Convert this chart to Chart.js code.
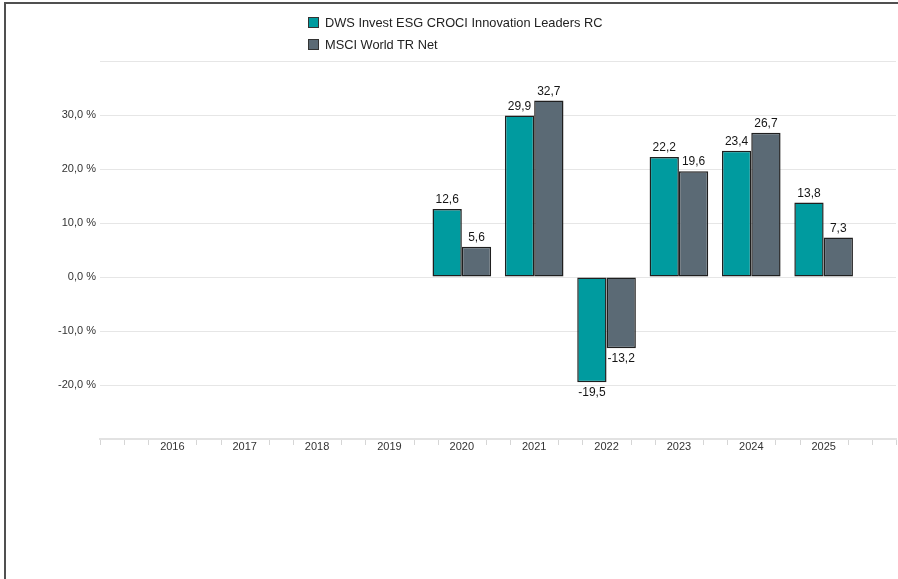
<!DOCTYPE html>
<html>
<head>
<meta charset="utf-8">
<script src="https://cdn.jsdelivr.net/npm/chart.js@4/dist/chart.umd.min.js"></script>
<style>
  html, body { margin: 0; padding: 0; background: #fff; }
  #wrap { position: relative; width: 898px; height: 579px; overflow: hidden; }
  #frame { position: absolute; left: 4px; top: 2px; right: -10px; bottom: -10px;
           border-left: 2px solid #505050; border-top: 2px solid #505050; pointer-events: none; }
  #legend { position: absolute; left: 308px; top: 11px; font: 12.8px 'Liberation Sans', Arial, sans-serif; color: #222; }
  #legend .item { display: flex; align-items: center; height: 22px; }
  #legend .box { width: 9px; height: 9px; border: 1px solid #333; margin-right: 6px; }
</style>
</head>
<body>
<div id="wrap">
  <canvas id="chart" width="898" height="579"></canvas>
  <div id="legend"></div>
  <div id="frame"></div>
</div>
<script>
const years = ['2016', '2017', '2018', '2019', '2020', '2021', '2022', '2023', '2024', '2025'];
const fundName = 'DWS Invest ESG CROCI Innovation Leaders RC';
const benchName = 'MSCI World TR Net';
const fundValues = [null, null, null, null, 12.6, 29.9, -19.5, 22.2, 23.4, 13.8];
const benchValues = [null, null, null, null, 5.6, 32.7, -13.2, 19.6, 26.7, 7.3];
const yTicks = [-30, -20, -10, 0, 10, 20, 30, 40];

const fundColor = '#009b9f';
const benchColor = '#5b6a75';
const font = "'Liberation Sans', Arial, sans-serif";

function fmt(v) {
  return v.toFixed(1).replace('.', ',');
}

// legend as a stacked list
const legendEl = document.getElementById('legend');
[[fundName, fundColor], [benchName, benchColor]].forEach(([name, color]) => {
  const row = document.createElement('div');
  row.className = 'item';
  row.innerHTML = `<span class="box" style="background:${color}"></span><span>${name}</span>`;
  legendEl.appendChild(row);
});

const valueLabels = {
  id: 'valueLabels',
  afterDatasetsDraw(chart) {
    const ctx = chart.ctx;
    ctx.save();
    ctx.font = '12px ' + font;
    ctx.fillStyle = '#151515';
    ctx.textAlign = 'center';
    chart.data.datasets.forEach((ds, i) => {
      const meta = chart.getDatasetMeta(i);
      meta.data.forEach((bar, j) => {
        const v = ds.data[j].y;
        if (v === null) return;
        if (v >= 0) {
          ctx.textBaseline = 'bottom';
          ctx.fillText(fmt(v), bar.x, bar.y - 3);
        } else {
          ctx.textBaseline = 'top';
          ctx.fillText(fmt(v), bar.x, bar.y + 4);
        }
      });
    });
    ctx.restore();
  }
};

// small tick marks under the x axis, a third of a year apart, none at the year labels
const minorTicks = {
  id: 'minorTicks',
  afterDraw(chart) {
    const x = chart.scales.x;
    const ctx = chart.ctx;
    const y0 = chart.chartArea.bottom + 1;
    ctx.save();
    ctx.strokeStyle = '#d6d6d6';
    ctx.lineWidth = 1;
    for (let k = -3; k <= 30; k++) {
      if (k % 3 === 0 && k >= 0 && k < 30) continue;
      const px = Math.round(x.getPixelForValue(k / 3)) + 0.5;
      ctx.beginPath();
      ctx.moveTo(px, y0);
      ctx.lineTo(px, y0 + 5);
      ctx.stroke();
    }
    ctx.restore();
  }
};

new Chart(document.getElementById('chart'), {
  type: 'bar',
  data: {
    datasets: [
      {
        label: fundName,
        data: fundValues.map((v, i) => ({ x: i, y: v })),
        backgroundColor: fundColor,
        borderColor: '#1f1f1f',
        borderWidth: 1.5,
        borderSkipped: false
      },
      {
        label: benchName,
        data: benchValues.map((v, i) => ({ x: i, y: v })),
        backgroundColor: benchColor,
        borderColor: '#1f1f1f',
        borderWidth: 1.5,
        borderSkipped: false
      }
    ]
  },
  options: {
    responsive: false,
    animation: false,
    categoryPercentage: 0.81,
    barPercentage: 1,
    layout: { padding: { top: 61, right: 2, bottom: 110, left: 0 } },
    plugins: {
      legend: { display: false },
      tooltip: { enabled: false }
    },
    scales: {
      x: {
        type: 'linear',
        min: -1,
        max: 10,
        offset: false,
        afterBuildTicks(scale) {
          scale.ticks = years.map((_, i) => ({ value: i }));
        },
        afterFit(scale) { scale.height = 30; },
        ticks: {
          autoSkip: false,
          maxRotation: 0,
          padding: 1,
          color: '#333',
          font: { family: font, size: 11 },
          callback: (v) => years[Math.round(v)]
        },
        grid: { drawOnChartArea: false, drawTicks: false, offset: false },
        border: { display: true, color: '#e2e2e2', width: 2 }
      },
      y: {
        min: -30,
        max: 40,
        afterBuildTicks(scale) {
          scale.ticks = yTicks.map(v => ({ value: v }));
        },
        afterFit(scale) { scale.width = 100; },
        ticks: {
          padding: 4,
          color: '#333',
          font: { family: font, size: 11 },
          callback: (v) => (v === -30 || v === 40) ? '' : fmt(v) + ' %'
        },
        grid: { color: '#e6e6e6', drawTicks: false },
        border: { display: false }
      }
    }
  },
  plugins: [valueLabels, minorTicks]
});
</script>
</body>
</html>
